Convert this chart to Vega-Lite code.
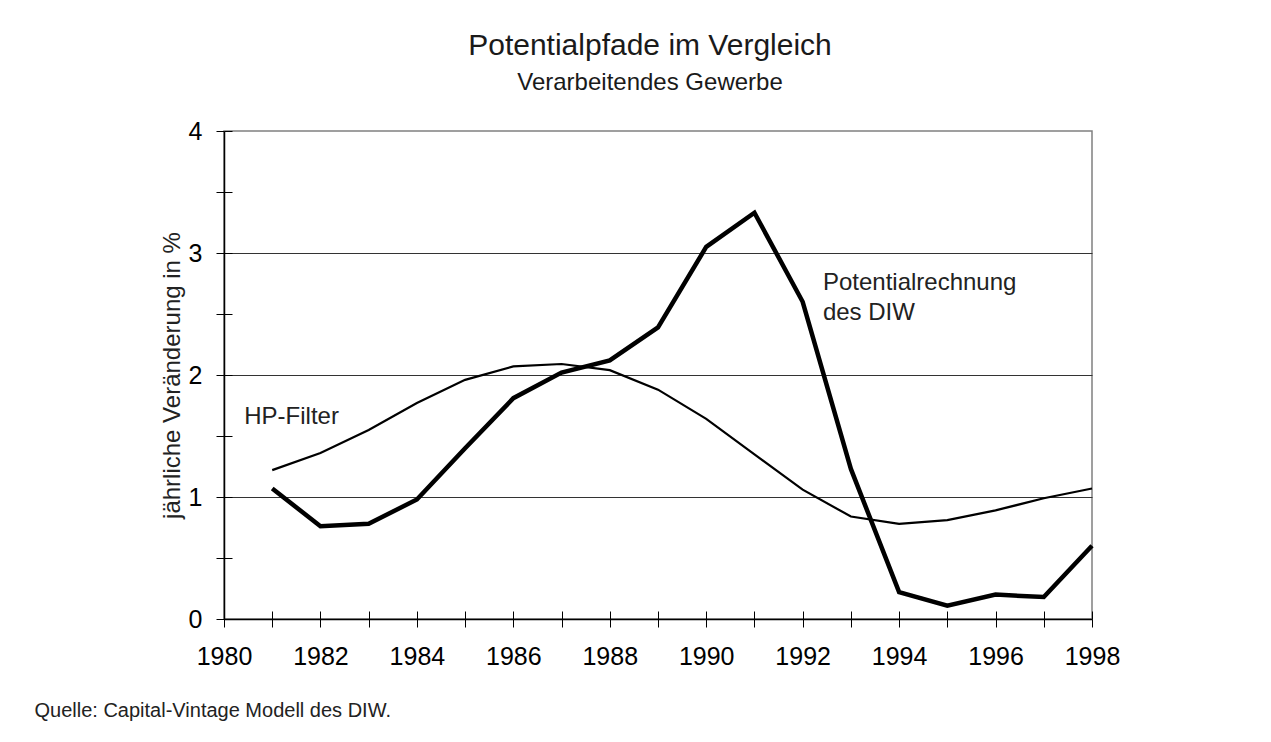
{
  "$schema": "https://vega.github.io/schema/vega-lite/v6.json",
  "width": 868,
  "height": 488,
  "autosize": "none",
  "padding": {"left": 224, "top": 131, "right": 179, "bottom": 123},
  "background": "white",
  "config": {
    "font": "Liberation Sans",
    "view": {"stroke": "#808080", "strokeWidth": 1.5}
  },
  "title": {
    "text": "Potentialpfade im Vergleich",
    "subtitle": "Verarbeitendes Gewerbe",
    "anchor": "middle",
    "dx": -8,
    "offset": 24,
    "fontSize": 30,
    "fontWeight": "normal",
    "color": "#1a1a1a",
    "subtitleFontSize": 24,
    "subtitleColor": "#1a1a1a",
    "subtitlePadding": 10,
    "font": "Liberation Sans",
    "subtitleFont": "Liberation Sans"
  },
  "datasets": {
    "lines": [
      {"series": "DIW", "year": 1981, "value": 1.07},
      {"series": "DIW", "year": 1982, "value": 0.76},
      {"series": "DIW", "year": 1983, "value": 0.78},
      {"series": "DIW", "year": 1984, "value": 0.98},
      {"series": "DIW", "year": 1985, "value": 1.40},
      {"series": "DIW", "year": 1986, "value": 1.81},
      {"series": "DIW", "year": 1987, "value": 2.02},
      {"series": "DIW", "year": 1988, "value": 2.12},
      {"series": "DIW", "year": 1989, "value": 2.39},
      {"series": "DIW", "year": 1990, "value": 3.05},
      {"series": "DIW", "year": 1991, "value": 3.33},
      {"series": "DIW", "year": 1992, "value": 2.60},
      {"series": "DIW", "year": 1993, "value": 1.23},
      {"series": "DIW", "year": 1994, "value": 0.22},
      {"series": "DIW", "year": 1995, "value": 0.11},
      {"series": "DIW", "year": 1996, "value": 0.20},
      {"series": "DIW", "year": 1997, "value": 0.18},
      {"series": "DIW", "year": 1998, "value": 0.60},
      {"series": "HP", "year": 1981, "value": 1.22},
      {"series": "HP", "year": 1982, "value": 1.36},
      {"series": "HP", "year": 1983, "value": 1.55},
      {"series": "HP", "year": 1984, "value": 1.77},
      {"series": "HP", "year": 1985, "value": 1.96},
      {"series": "HP", "year": 1986, "value": 2.07},
      {"series": "HP", "year": 1987, "value": 2.09},
      {"series": "HP", "year": 1988, "value": 2.04},
      {"series": "HP", "year": 1989, "value": 1.88},
      {"series": "HP", "year": 1990, "value": 1.64},
      {"series": "HP", "year": 1991, "value": 1.35},
      {"series": "HP", "year": 1992, "value": 1.06},
      {"series": "HP", "year": 1993, "value": 0.84},
      {"series": "HP", "year": 1994, "value": 0.78},
      {"series": "HP", "year": 1995, "value": 0.81},
      {"series": "HP", "year": 1996, "value": 0.89},
      {"series": "HP", "year": 1997, "value": 0.99},
      {"series": "HP", "year": 1998, "value": 1.07}
    ],
    "labels": [
      {"label": "HP-Filter", "year": 1980.42, "value": 1.60},
      {"label": "Potentialrechnung", "year": 1992.42, "value": 2.70},
      {"label": "des DIW", "year": 1992.42, "value": 2.45}
    ]
  },
  "resolve": {"axis": {"x": "independent", "y": "independent"}},
  "layer": [
    {
      "data": {"name": "lines"},
      "mark": {"type": "line", "color": "black", "strokeCap": "butt", "strokeJoin": "miter"},
      "encoding": {
        "x": {
          "field": "year", "type": "quantitative",
          "scale": {"domain": [1980, 1998], "nice": false, "zero": false},
          "axis": {
            "orient": "bottom",
            "values": [1980,1981,1982,1983,1984,1985,1986,1987,1988,1989,1990,1991,1992,1993,1994,1995,1996,1997,1998],
            "labelExpr": "datum.value % 2 === 0 ? format(datum.value, 'd') : ''",
            "labelFontSize": 25,
            "labelColor": "black",
            "labelPadding": 17,
            "labelOverlap": false,
            "labelFlush": false,
            "tickSize": 8,
            "tickColor": "black",
            "tickWidth": 1,
            "domainColor": "black",
            "domainWidth": 1.5,
            "grid": false,
            "title": "Quelle: Capital-Vintage Modell des DIW.",
            "titleFontSize": 20,
            "titleFontWeight": "normal",
            "titleColor": "#222222",
            "titleAnchor": "start",
            "titleAlign": "left",
            "titleBaseline": "alphabetic",
            "titleX": -190,
            "titleY": 97
          }
        },
        "y": {
          "field": "value", "type": "quantitative",
          "scale": {"domain": [0, 4], "nice": false, "zero": false},
          "axis": {
            "orient": "left",
            "values": [0, 0.5, 1, 1.5, 2, 2.5, 3, 3.5, 4],
            "labelExpr": "datum.value % 1 === 0 ? format(datum.value, 'd') : ''",
            "labelFontSize": 25,
            "labelColor": "black",
            "labelPadding": 14,
            "labelOverlap": false,
            "labelFlush": false,
            "tickSize": 8,
            "tickColor": "black",
            "tickWidth": 1,
            "domainColor": "black",
            "domainWidth": 1.5,
            "grid": true,
            "gridColor": {"condition": {"test": "datum.value % 1 === 0 && datum.value > 0 && datum.value < 4", "value": "#333333"}, "value": "transparent"},
            "gridWidth": 1,
            "title": "jährliche Veränderung in %",
            "titleFontSize": 24,
            "titleFontWeight": "normal",
            "titleColor": "#222222",
            "titleX": -40,
            "titleY": 244
          }
        },
        "detail": {"field": "series"},
        "strokeWidth": {"field": "series", "type": "nominal", "scale": {"domain": ["DIW", "HP"], "range": [4.5, 2.2]}, "legend": null}
      }
    },
    {
      "data": {"name": "labels"},
      "mark": {"type": "text", "align": "left", "baseline": "alphabetic", "fontSize": 24, "color": "#222222", "font": "Liberation Sans"},
      "encoding": {
        "x": {
          "field": "year", "type": "quantitative",
          "scale": {"domain": [1980, 1998], "nice": false, "zero": false},
          "axis": {
            "orient": "bottom",
            "values": [1980,1981,1982,1983,1984,1985,1986,1987,1988,1989,1990,1991,1992,1993,1994,1995,1996,1997,1998],
            "labels": false, "domain": false, "grid": false, "title": null,
            "tickSize": -8, "tickColor": "black", "tickWidth": 1
          }
        },
        "y": {
          "field": "value", "type": "quantitative",
          "scale": {"domain": [0, 4], "nice": false, "zero": false},
          "axis": {
            "orient": "left",
            "values": [0, 0.5, 1, 1.5, 2, 2.5, 3, 3.5, 4],
            "labels": false, "domain": false, "grid": false, "title": null,
            "tickSize": -8, "tickColor": "black", "tickWidth": 1
          }
        },
        "text": {"field": "label"}
      }
    }
  ]
}
